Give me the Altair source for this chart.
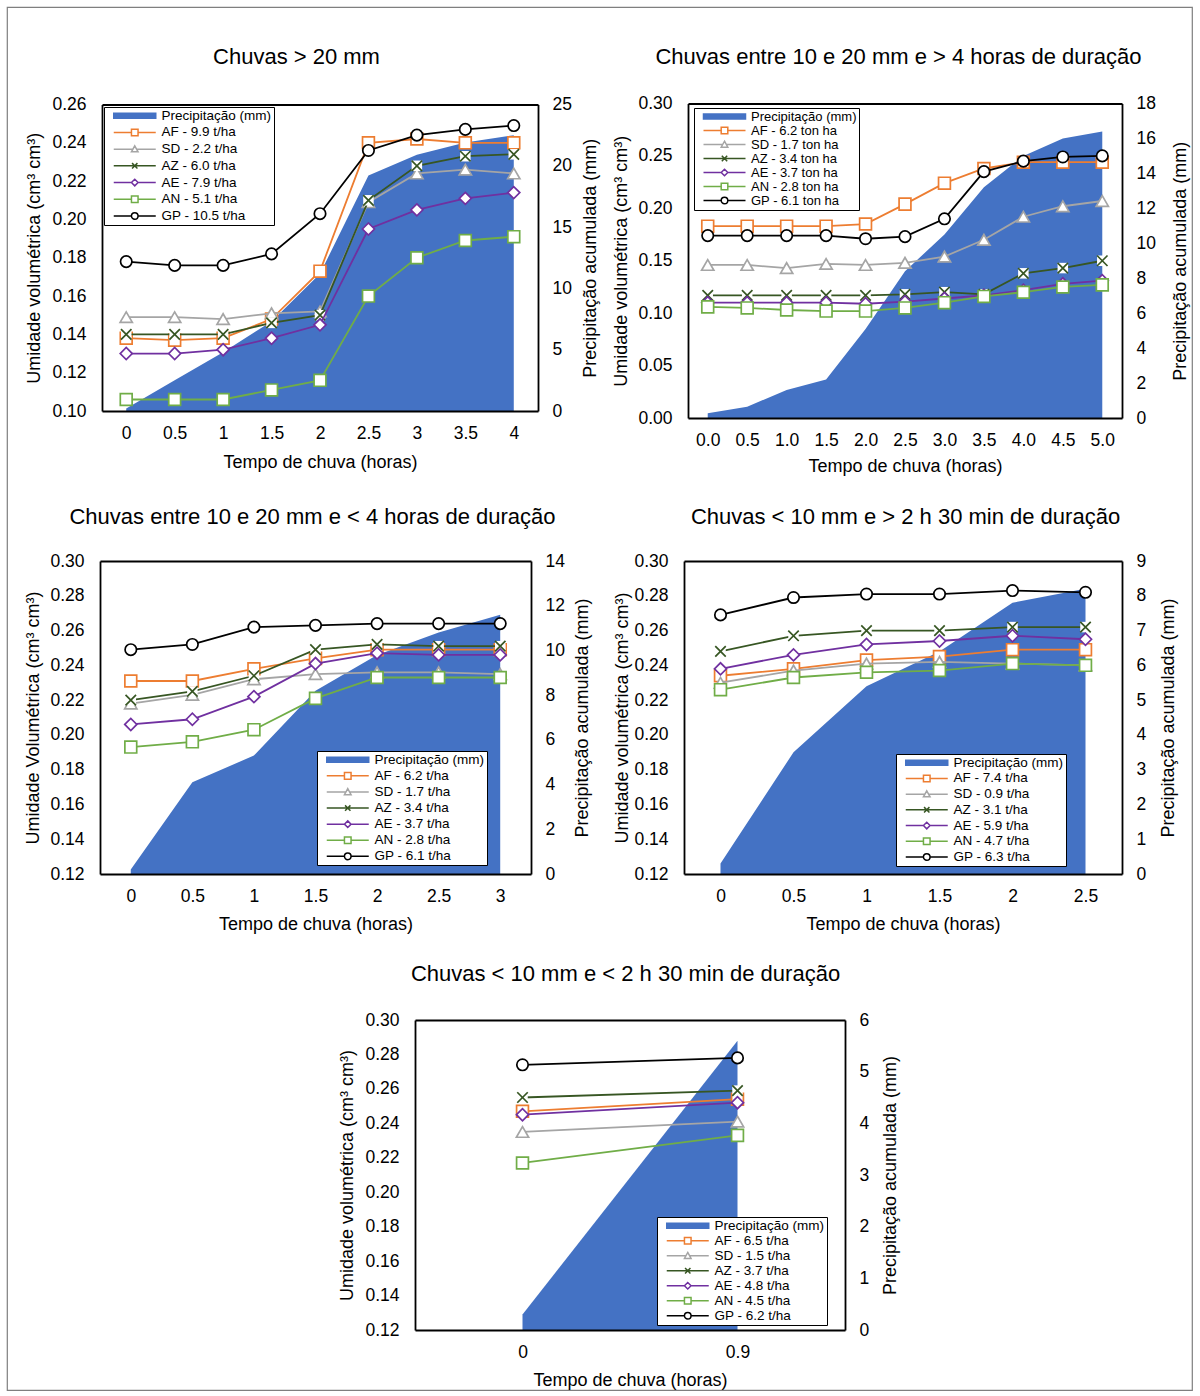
import altair as alt
import pandas as pd

FONT = "Liberation Sans"
OX, OY = 7, 7          # view origin inside the page (outer frame)
W, H = 1185, 1383      # size of the framed view

SERIES = ["AF", "SD", "AZ", "AE", "AN", "GP"]
SERIES_COLORS = ["#ED7D31", "#A5A5A5", "#375623", "#7030A0", "#70AD47", "#000000"]
PRECIP_COLOR = "#4472C4"
PRECIP_LABEL = "Precipitação (mm)"

# ---------------- Panel 1 ----------------
p1_title = "Chuvas > 20 mm"
p1_time = ["0", "0.5", "1", "1.5", "2", "2.5", "3", "3.5", "4"]
p1_precip = [0.2, 2.5, 4.8, 7.3, 11.2, 19.2, 20.9, 21.9, 22.5]
p1_AF = [0.138, 0.137, 0.138, 0.148, 0.173, 0.240, 0.242, 0.240, 0.240]
p1_SD = [0.149, 0.149, 0.148, 0.151, 0.152, 0.209, 0.224, 0.226, 0.224]
p1_AZ = [0.140, 0.140, 0.140, 0.146, 0.150, 0.210, 0.228, 0.233, 0.234]
p1_AE = [0.130, 0.130, 0.132, 0.138, 0.145, 0.195, 0.205, 0.211, 0.214]
p1_AN = [0.106, 0.106, 0.106, 0.111, 0.116, 0.160, 0.180, 0.189, 0.191]
p1_GP = [0.178, 0.176, 0.176, 0.182, 0.203, 0.236, 0.244, 0.247, 0.249]
p1_legend = ["AF - 9.9 t/ha", "SD - 2.2 t/ha", "AZ - 6.0 t/ha",
             "AE - 7.9 t/ha", "AN - 5.1 t/ha", "GP - 10.5 t/ha"]
p1_left_ticks = [0.10, 0.12, 0.14, 0.16, 0.18, 0.20, 0.22, 0.24, 0.26]
p1_right_ticks = [0, 5, 10, 15, 20, 25]

# ---------------- Panel 2 ----------------
p2_title = "Chuvas entre 10 e 20 mm e > 4 horas de duração"
p2_time = ["0.0", "0.5", "1.0", "1.5", "2.0", "2.5", "3.0", "3.5", "4.0", "4.5", "5.0"]
p2_precip = [0.27, 0.65, 1.6, 2.2, 5.1, 8.4, 10.5, 13.2, 15.0, 16.0, 16.4]
p2_AF = [0.183, 0.183, 0.183, 0.183, 0.185, 0.204, 0.224, 0.238, 0.244, 0.244, 0.244]
p2_SD = [0.146, 0.146, 0.143, 0.147, 0.146, 0.148, 0.154, 0.170, 0.192, 0.202, 0.207]
p2_AZ = [0.117, 0.117, 0.117, 0.117, 0.117, 0.118, 0.120, 0.118, 0.138, 0.143, 0.150]
p2_AE = [0.110, 0.110, 0.110, 0.110, 0.109, 0.111, 0.114, 0.117, 0.122, 0.128, 0.131]
p2_AN = [0.106, 0.105, 0.103, 0.102, 0.102, 0.105, 0.110, 0.116, 0.120, 0.125, 0.127]
p2_GP = [0.174, 0.174, 0.174, 0.174, 0.171, 0.173, 0.190, 0.235, 0.245, 0.249, 0.250]
p2_legend = ["AF - 6.2 ton ha", "SD - 1.7 ton ha", "AZ - 3.4 ton ha",
             "AE - 3.7 ton ha", "AN - 2.8 ton ha", "GP - 6.1 ton ha"]
p2_left_ticks = [0.00, 0.05, 0.10, 0.15, 0.20, 0.25, 0.30]
p2_right_ticks = [0, 2, 4, 6, 8, 10, 12, 14, 16, 18]

# ---------------- Panel 3 ----------------
p3_title = "Chuvas entre 10 e 20 mm e < 4 horas de duração"
p3_time = ["0", "0.5", "1", "1.5", "2", "2.5", "3"]
p3_precip = [0.2, 4.1, 5.3, 8.2, 9.8, 10.8, 11.6]
p3_AF = [0.231, 0.231, 0.238, 0.244, 0.249, 0.249, 0.249]
p3_SD = [0.218, 0.223, 0.232, 0.235, 0.236, 0.236, 0.235]
p3_AZ = [0.220, 0.225, 0.234, 0.249, 0.252, 0.251, 0.251]
p3_AE = [0.206, 0.209, 0.222, 0.241, 0.247, 0.246, 0.246]
p3_AN = [0.193, 0.196, 0.203, 0.221, 0.233, 0.233, 0.233]
p3_GP = [0.249, 0.252, 0.262, 0.263, 0.264, 0.264, 0.264]
p3_legend = ["AF - 6.2 t/ha", "SD - 1.7 t/ha", "AZ - 3.4 t/ha",
             "AE - 3.7 t/ha", "AN - 2.8 t/ha", "GP - 6.1 t/ha"]
p3_left_ticks = [0.12, 0.14, 0.16, 0.18, 0.20, 0.22, 0.24, 0.26, 0.28, 0.30]
p3_right_ticks = [0, 2, 4, 6, 8, 10, 12, 14]

# ---------------- Panel 4 ----------------
p4_title = "Chuvas < 10 mm e > 2 h 30 min de duração"
p4_time = ["0", "0.5", "1", "1.5", "2", "2.5"]
p4_precip = [0.3, 3.5, 5.4, 6.4, 7.8, 8.2]
p4_AF = [0.234, 0.238, 0.243, 0.245, 0.249, 0.249]
p4_SD = [0.230, 0.237, 0.241, 0.242, 0.241, 0.240]
p4_AZ = [0.248, 0.257, 0.260, 0.260, 0.262, 0.262]
p4_AE = [0.238, 0.246, 0.252, 0.254, 0.257, 0.255]
p4_AN = [0.226, 0.233, 0.236, 0.237, 0.241, 0.240]
p4_GP = [0.269, 0.279, 0.281, 0.281, 0.283, 0.282]
p4_legend = ["AF - 7.4 t/ha", "SD - 0.9 t/ha", "AZ - 3.1 t/ha",
             "AE - 5.9 t/ha", "AN - 4.7 t/ha", "GP - 6.3 t/ha"]
p4_left_ticks = [0.12, 0.14, 0.16, 0.18, 0.20, 0.22, 0.24, 0.26, 0.28, 0.30]
p4_right_ticks = [0, 1, 2, 3, 4, 5, 6, 7, 8, 9]

# ---------------- Panel 5 ----------------
p5_title = "Chuvas < 10 mm e < 2 h 30 min de duração"
p5_time = ["0", "0.9"]
p5_precip = [0.3, 5.6]
p5_AF = [0.247, 0.254]
p5_SD = [0.235, 0.241]
p5_AZ = [0.255, 0.259]
p5_AE = [0.245, 0.252]
p5_AN = [0.217, 0.233]
p5_GP = [0.274, 0.278]
p5_legend = ["AF - 6.5 t/ha", "SD - 1.5 t/ha", "AZ - 3.7 t/ha",
             "AE - 4.8 t/ha", "AN - 4.5 t/ha", "GP - 6.2 t/ha"]
p5_left_ticks = [0.12, 0.14, 0.16, 0.18, 0.20, 0.22, 0.24, 0.26, 0.28, 0.30]
p5_right_ticks = [0, 1, 2, 3, 4, 5, 6]

Y_TITLE = "Umidade volumétrica (cm³ cm³)"
Y_TITLE_3 = "Umidade Volumétrica (cm³ cm³)"
Y2_TITLE = "Precipitação acumulada (mm)"
X_TITLE = "Tempo de chuva (horas)"

# layout (page pixels): frame x0, x1, ybottom, ytop ; title positions ; legend box
PANELS = [
    dict(title=p1_title, time=p1_time, precip=p1_precip,
         values=[p1_AF, p1_SD, p1_AZ, p1_AE, p1_AN, p1_GP], legend=p1_legend,
         lticks=p1_left_ticks, rticks=p1_right_ticks, ldom=[0.10, 0.26], rdom=[0, 25],
         ytitle=Y_TITLE, frame=(102, 538, 411, 104.5), ltx=34, rtx=590, bty=462,
         title_xy=(296, 56), leg=(104, 107), rowpad=1.7, lfs=13.5),
    dict(title=p2_title, time=p2_time, precip=p2_precip,
         values=[p2_AF, p2_SD, p2_AZ, p2_AE, p2_AN, p2_GP], legend=p2_legend,
         lticks=p2_left_ticks, rticks=p2_right_ticks, ldom=[0.0, 0.30], rdom=[0, 18],
         ytitle=Y_TITLE, frame=(688, 1122, 418, 103.5), ltx=621, rtx=1180, bty=466,
         title_xy=(898, 56), leg=(694, 108), rowpad=0, lfs=13),
    dict(title=p3_title, time=p3_time, precip=p3_precip,
         values=[p3_AF, p3_SD, p3_AZ, p3_AE, p3_AN, p3_GP], legend=p3_legend,
         lticks=p3_left_ticks, rticks=p3_right_ticks, ldom=[0.12, 0.30], rdom=[0, 14],
         ytitle=Y_TITLE_3, frame=(100, 531, 874, 561), ltx=33, rtx=582, bty=924,
         title_xy=(312, 516), leg=(317, 751), rowpad=1.1, lfs=13.5),
    dict(title=p4_title, time=p4_time, precip=p4_precip,
         values=[p4_AF, p4_SD, p4_AZ, p4_AE, p4_AN, p4_GP], legend=p4_legend,
         lticks=p4_left_ticks, rticks=p4_right_ticks, ldom=[0.12, 0.30], rdom=[0, 9],
         ytitle=Y_TITLE, frame=(684, 1122, 874, 561), ltx=622, rtx=1168, bty=924,
         title_xy=(905, 516), leg=(896, 754), rowpad=0.7, lfs=13.5),
    dict(title=p5_title, time=p5_time, precip=p5_precip,
         values=[p5_AF, p5_SD, p5_AZ, p5_AE, p5_AN, p5_GP], legend=p5_legend,
         lticks=p5_left_ticks, rticks=p5_right_ticks, ldom=[0.12, 0.30], rdom=[0, 6],
         ytitle=Y_TITLE, frame=(415, 845, 1330, 1020), ltx=347, rtx=890, bty=1380,
         title_xy=(625, 973), leg=(657, 1217), rowpad=0, lfs=13.5),
]

X_PATH = "M-1,-1L1,1M-1,1L1,-1"
MARKERS = {
    "AF": ("square", 140),
    "SD": ("triangle-up", 150),
    "AZ": (X_PATH, 110),
    "AE": ("diamond", 145),
    "AN": ("square", 140),
    "GP": ("circle", 130),
}

# legend symbols: line + marker (unit = 3 px)
LEG_RECT = "M-1,-0.85H13V0.85H-1Z"
LEG_SQ = "M-1,0H4.9M4.9,-1.1H7.1V1.1H4.9ZM7.1,0H13"
LEG_TRI = "M-1,0H5.4M6,-1.1L7.1,0.9H4.9ZM6.6,0H13"
LEG_X = "M-1,0H13M5.1,-0.9L6.9,0.9M5.1,0.9L6.9,-0.9"
LEG_DIA = "M-1,0H4.9M6,-1.1L7.1,0L6,1.1L4.9,0ZM7.1,0H13"
LEG_CIR = "M-1,0H4.9M4.9,0A1.1,1.1,0,1,1,7.1,0A1.1,1.1,0,1,1,4.9,0ZM7.1,0H13"
LEG_PATHS = [LEG_RECT, LEG_SQ, LEG_TRI, LEG_X, LEG_DIA, LEG_SQ, LEG_CIR]

COMMON = dict(ticks=False, tickSize=0, grid=False, domainColor="black",
              domainWidth=1.8, labelFontSize=17.5, labelColor="black",
              labelFont=FONT, titleFont=FONT, titleFontSize=18,
              titleFontWeight="normal", titleColor="black", zindex=1,
              labelFlush=False, labelOverlap=False)


def panel_layers(P):
    cats = P["time"]
    n = len(cats)
    x0, x1, yb, yt = P["frame"]
    xs = alt.Scale(type="point", domain=cats, range=[x0 - OX, x1 - OX], padding=0.5)
    ysl = alt.Scale(domain=P["ldom"], range=[yb - OY, yt - OY], nice=False, zero=False)
    ysr = alt.Scale(domain=P["rdom"], range=[yb - OY, yt - OY], nice=False, zero=False)
    ymid = (yb + yt) / 2 - OY
    xmid = (x0 + x1) / 2 - OX

    left_axis = alt.Axis(orient="left", offset=-(x0 - OX), values=P["lticks"], format=".2f",
                         title=P["ytitle"], titleX=P["ltx"] - x0, titleY=ymid, titleAngle=270,
                         titleAlign="center", titleBaseline="middle", labelPadding=16, **COMMON)
    right_axis = alt.Axis(orient="right", offset=(x1 - OX) - W, values=P["rticks"], format="d",
                          title=Y2_TITLE, titleX=P["rtx"] - x1, titleY=ymid, titleAngle=270,
                          titleAlign="center", titleBaseline="middle", labelPadding=14, **COMMON)
    bottom_axis = alt.Axis(orient="bottom", offset=(yb - OY) - H, title=X_TITLE,
                           titleX=xmid, titleY=P["bty"] - yb, titleAlign="center",
                           titleBaseline="middle", labelPadding=13, labelAngle=0, **COMMON)
    top_common = dict(COMMON)
    top_common["titleFontSize"] = 22
    top_axis = alt.Axis(orient="top", offset=-(yt - OY), labels=False, title=P["title"],
                        titleX=P["title_xy"][0] - OX, titleY=P["title_xy"][1] - yt,
                        titleAlign="center", titleBaseline="middle", **top_common)

    pdf = pd.DataFrame({"t": cats, "i": list(range(n)), "p": P["precip"], "base": [0] * n})
    layers = []
    layers.append(
        alt.Chart(pdf).mark_area(color=PRECIP_COLOR, opacity=1).encode(
            x=alt.X("t:O", scale=xs, sort=cats, axis=bottom_axis),
            y=alt.Y("p:Q", scale=ysr, axis=right_axis),
            y2=alt.Y2("base:Q"),
        )
    )
    for k, (s, col) in enumerate(zip(SERIES, SERIES_COLORS)):
        sdf = pd.DataFrame({"t": cats, "i": list(range(n)), "v": P["values"][k]})
        layers.append(
            alt.Chart(sdf).mark_line(color=col, strokeWidth=1.8).encode(
                x=alt.X("t:O", scale=xs, sort=cats, axis=None),
                y=alt.Y("v:Q", scale=ysl, axis=left_axis if k == 0 else None),
                order=alt.Order("i:Q"),
            )
        )
        shape, size = MARKERS[s]
        if s == "AZ":
            layers.append(
                alt.Chart(sdf).mark_point(shape="square", filled=True, color="white",
                                          size=size, opacity=1, strokeWidth=0).encode(
                    x=alt.X("t:O", scale=xs, sort=cats, axis=None),
                    y=alt.Y("v:Q", scale=ysl, axis=None),
                )
            )
        layers.append(
            alt.Chart(sdf).mark_point(shape=shape, filled=True, fill="white", stroke=col,
                                      strokeWidth=1.7, size=size, opacity=1).encode(
                x=alt.X("t:O", scale=xs, sort=cats, axis=None),
                y=alt.Y("v:Q", scale=ysl, axis=None),
            )
        )

    labels = [PRECIP_LABEL] + P["legend"]
    leg = alt.Legend(orient="none", legendX=P["leg"][0] - OX, legendY=P["leg"][1] - OY,
                     title=None, labelFontSize=P["lfs"], labelFont=FONT, labelColor="black",
                     symbolSize=36, symbolStrokeWidth=1.5, symbolOffset=4, labelOffset=38,
                     rowPadding=P["rowpad"], padding=2, strokeColor="black",
                     fillColor="white", labelLimit=300)
    layers.append(
        alt.Chart(pdf).transform_filter("false").mark_point(filled=True, opacity=1).encode(
            x=alt.X("t:O", scale=xs, sort=cats, axis=top_axis),
            stroke=alt.Stroke("label:N", scale=alt.Scale(domain=labels,
                              range=[PRECIP_COLOR] + SERIES_COLORS), legend=leg),
            fill=alt.Fill("label:N", scale=alt.Scale(domain=labels,
                          range=[PRECIP_COLOR] + ["white"] * 6), legend=leg),
            shape=alt.Shape("label:N", scale=alt.Scale(domain=labels, range=LEG_PATHS),
                            legend=leg),
        )
    )
    return layers


all_layers = []
for P in PANELS:
    all_layers.extend(panel_layers(P))

chart = alt.layer(*all_layers).properties(
    width=W, height=H,
    padding={"left": OX, "top": OY, "right": 1200 - W - OX, "bottom": 1396 - H - OY},
    background="white",
).resolve_scale(
    x="independent", y="independent", stroke="independent",
    fill="independent", shape="independent",
).configure_view(stroke="#7f7f7f", strokeWidth=1.2).configure_legend(labelFont=FONT)

chart.save("out.html", embed_options={"renderer": "svg", "actions": False})
